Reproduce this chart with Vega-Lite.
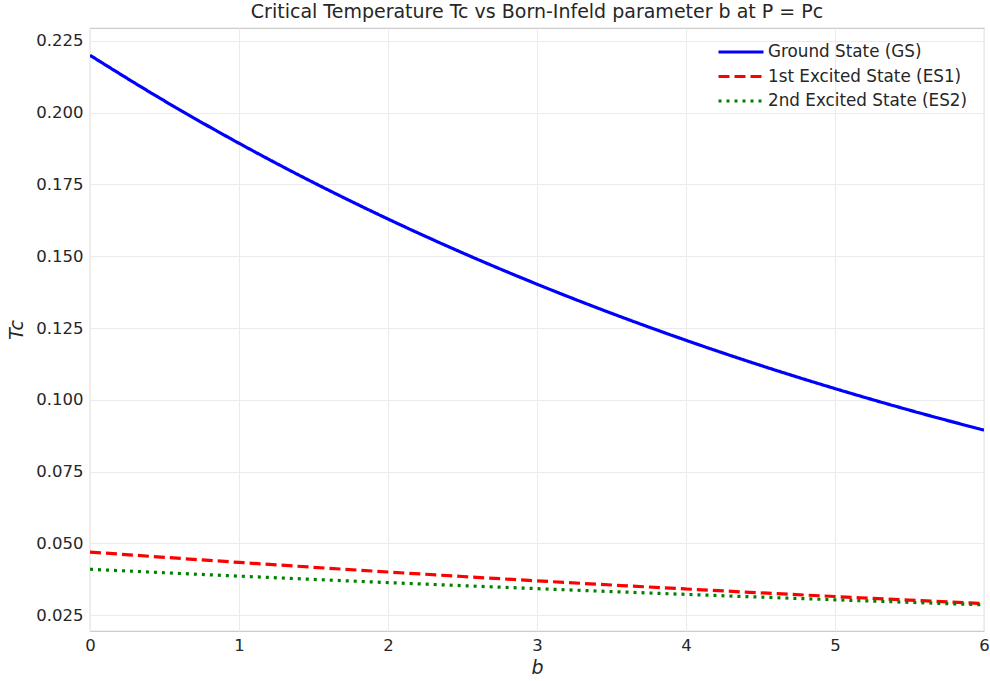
{
  "$schema": "https://vega.github.io/schema/vega-lite/v6.json",
  "width": 894,
  "height": 603,
  "autosize": {"type": "none"},
  "padding": {"left": 90, "top": 28, "right": 6, "bottom": 50},
  "background": "white",
  "title": {
    "text": "Critical Temperature Tc vs Born-Infeld parameter b at P = Pc",
    "font": "DejaVu Sans",
    "fontSize": 19,
    "fontWeight": "normal",
    "color": "#262626",
    "anchor": "middle",
    "offset": 6
  },
  "data": {
    "values": [
      {"b": 0, "Tc": 0.2200, "state": "Ground State (GS)"},
      {"b": 0.5, "Tc": 0.20410, "state": "Ground State (GS)"},
      {"b": 1, "Tc": 0.18936, "state": "Ground State (GS)"},
      {"b": 1.5, "Tc": 0.17567, "state": "Ground State (GS)"},
      {"b": 2, "Tc": 0.16298, "state": "Ground State (GS)"},
      {"b": 2.5, "Tc": 0.15120, "state": "Ground State (GS)"},
      {"b": 3, "Tc": 0.14028, "state": "Ground State (GS)"},
      {"b": 3.5, "Tc": 0.13014, "state": "Ground State (GS)"},
      {"b": 4, "Tc": 0.12074, "state": "Ground State (GS)"},
      {"b": 4.5, "Tc": 0.11201, "state": "Ground State (GS)"},
      {"b": 5, "Tc": 0.10392, "state": "Ground State (GS)"},
      {"b": 5.5, "Tc": 0.09641, "state": "Ground State (GS)"},
      {"b": 6, "Tc": 0.08945, "state": "Ground State (GS)"},
      {"b": 0, "Tc": 0.04700, "state": "1st Excited State (ES1)"},
      {"b": 0.5, "Tc": 0.04516, "state": "1st Excited State (ES1)"},
      {"b": 1, "Tc": 0.04339, "state": "1st Excited State (ES1)"},
      {"b": 1.5, "Tc": 0.04169, "state": "1st Excited State (ES1)"},
      {"b": 2, "Tc": 0.04005, "state": "1st Excited State (ES1)"},
      {"b": 2.5, "Tc": 0.03848, "state": "1st Excited State (ES1)"},
      {"b": 3, "Tc": 0.03697, "state": "1st Excited State (ES1)"},
      {"b": 3.5, "Tc": 0.03552, "state": "1st Excited State (ES1)"},
      {"b": 4, "Tc": 0.03413, "state": "1st Excited State (ES1)"},
      {"b": 4.5, "Tc": 0.03279, "state": "1st Excited State (ES1)"},
      {"b": 5, "Tc": 0.03151, "state": "1st Excited State (ES1)"},
      {"b": 5.5, "Tc": 0.03027, "state": "1st Excited State (ES1)"},
      {"b": 6, "Tc": 0.02908, "state": "1st Excited State (ES1)"},
      {"b": 0, "Tc": 0.04100, "state": "2nd Excited State (ES2)"},
      {"b": 0.5, "Tc": 0.03979, "state": "2nd Excited State (ES2)"},
      {"b": 1, "Tc": 0.03861, "state": "2nd Excited State (ES2)"},
      {"b": 1.5, "Tc": 0.03747, "state": "2nd Excited State (ES2)"},
      {"b": 2, "Tc": 0.03636, "state": "2nd Excited State (ES2)"},
      {"b": 2.5, "Tc": 0.03529, "state": "2nd Excited State (ES2)"},
      {"b": 3, "Tc": 0.03425, "state": "2nd Excited State (ES2)"},
      {"b": 3.5, "Tc": 0.03323, "state": "2nd Excited State (ES2)"},
      {"b": 4, "Tc": 0.03225, "state": "2nd Excited State (ES2)"},
      {"b": 4.5, "Tc": 0.03130, "state": "2nd Excited State (ES2)"},
      {"b": 5, "Tc": 0.03037, "state": "2nd Excited State (ES2)"},
      {"b": 5.5, "Tc": 0.02948, "state": "2nd Excited State (ES2)"},
      {"b": 6, "Tc": 0.02860, "state": "2nd Excited State (ES2)"}
    ]
  },
  "mark": {"type": "line", "strokeWidth": 3.2, "interpolate": "monotone", "strokeCap": "butt", "clip": true},
  "encoding": {
    "x": {
      "field": "b",
      "type": "quantitative",
      "scale": {"domain": [0, 6], "nice": false, "zero": false},
      "axis": {
        "title": "b",
        "values": [0, 1, 2, 3, 4, 5, 6],
        "format": "d",
        "labelFlush": false,
        "titleFontStyle": "italic",
        "titlePadding": 5,
        "labelPadding": 6
      }
    },
    "y": {
      "field": "Tc",
      "type": "quantitative",
      "scale": {"domain": [0.0195, 0.2295], "nice": false, "zero": false},
      "axis": {
        "title": "Tc",
        "values": [0.025, 0.05, 0.075, 0.1, 0.125, 0.15, 0.175, 0.2, 0.225],
        "format": ".3f",
        "labelFlush": false,
        "titleFontStyle": "italic",
        "titlePadding": 9,
        "labelPadding": 7
      }
    },
    "color": {
      "field": "state",
      "type": "nominal",
      "scale": {
        "domain": ["Ground State (GS)", "1st Excited State (ES1)", "2nd Excited State (ES2)"],
        "range": ["#0000ff", "#ff0000", "#008000"]
      },
      "legend": {
        "title": null,
        "orient": "none",
        "legendX": 637,
        "legendY": 10,
        "symbolType": "M-1.8,0L1.8,0",
        "symbolSize": 625,
        "symbolStrokeWidth": 3,
        "symbolFillColor": "transparent",
        "labelFontSize": 16.8,
        "labelFont": "DejaVu Sans",
        "labelColor": "#262626",
        "labelLimit": 400,
        "rowPadding": 1.5,
        "labelOffset": 13,
        "padding": 0
      }
    },
    "strokeDash": {
      "field": "state",
      "type": "nominal",
      "scale": {
        "domain": ["Ground State (GS)", "1st Excited State (ES1)", "2nd Excited State (ES2)"],
        "range": [[1, 0], [11, 5], [3, 5]]
      },
      "legend": null
    }
  },
  "config": {
    "font": "DejaVu Sans",
    "view": {"stroke": "#cccccc", "strokeWidth": 1.2},
    "axis": {
      "labelFont": "DejaVu Sans",
      "labelFontSize": 16.5,
      "labelColor": "#262626",
      "titleFont": "DejaVu Sans",
      "titleFontSize": 19,
      "titleFontWeight": "normal",
      "titleColor": "#262626",
      "ticks": false,
      "domain": false,
      "grid": true,
      "gridColor": "#ebebeb",
      "gridWidth": 1
    }
  }
}
